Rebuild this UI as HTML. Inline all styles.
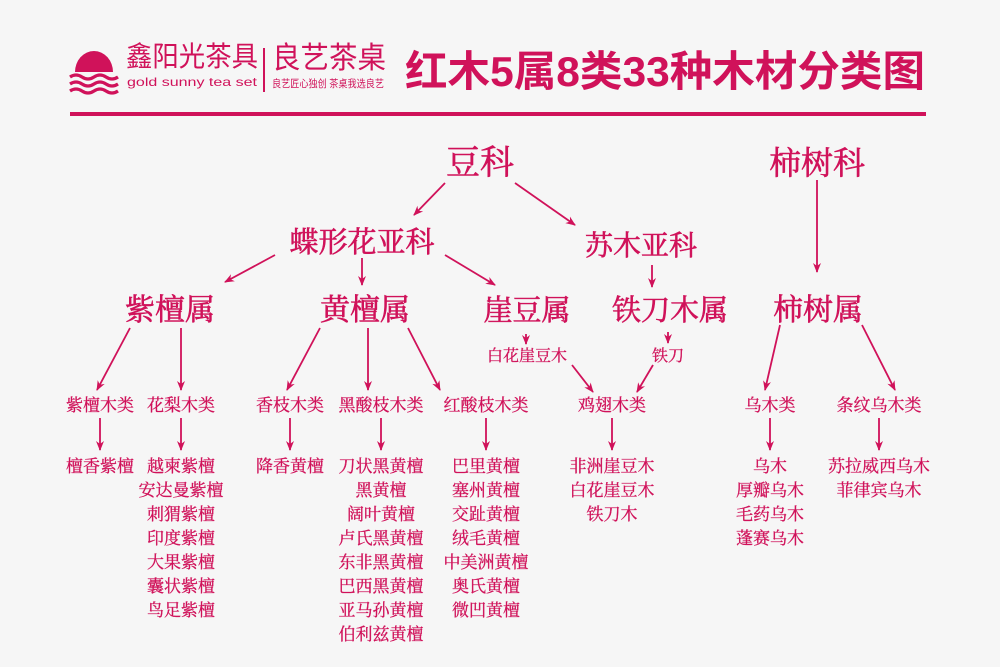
<!DOCTYPE html>
<html><head><meta charset="utf-8"><style>
body{margin:0;background:#f6f6f6}
svg{display:block}
.s{font-family:"Liberation Serif","Noto Serif CJK SC",serif;fill:#d0125a;text-anchor:middle}
.b{stroke:#d0125a;stroke-width:0.6}
.h{font-family:"Liberation Sans","Noto Sans CJK SC",sans-serif;fill:#d0125a}
</style></head><body>
<svg width="1000" height="667" viewBox="0 0 1000 667" xmlns="http://www.w3.org/2000/svg">
<defs><marker id="a" markerWidth="10" markerHeight="10" refX="9" refY="5" orient="auto" markerUnits="userSpaceOnUse"><path d="M0,1 L10,5 L0,9 L3,5 z" fill="#d0125a"/></marker></defs>
<rect width="1000" height="667" fill="#f6f6f6"/>
<!-- logo -->
<path d="M75,72 A19,21 0 0 1 113,72 Z" fill="#d0125a"/>
<g stroke="#d0125a" stroke-width="3.2" fill="none">
<path d="M70,77 q6,-4 12,0 t12,0 t12,0 t12,0"/>
<path d="M70,84 q6,-4 12,0 t12,0 t12,0 t12,0"/>
<path d="M70,91 q6,-4 12,0 t12,0 t12,0 t12,0"/>
</g>
<text class="h" x="126" y="66" font-size="28" textLength="132" lengthAdjust="spacingAndGlyphs">鑫阳光茶具</text>
<text class="h" x="127" y="86" font-size="12" textLength="130" lengthAdjust="spacingAndGlyphs">gold sunny tea set</text>
<rect x="263" y="48" width="2" height="44" fill="#d0125a"/>
<text class="h" x="272" y="68" font-size="30" textLength="114" lengthAdjust="spacingAndGlyphs">良艺茶桌</text>
<text class="h" x="272" y="87" font-size="10.5" textLength="112" lengthAdjust="spacingAndGlyphs">良艺匠心独创 茶桌我选良艺</text>
<text class="h" x="405" y="86" font-size="42" font-weight="bold" textLength="520" lengthAdjust="spacingAndGlyphs">红木5属8类33种木材分类图</text>
<rect x="70" y="112" width="856" height="4" fill="#d0125a"/>
<!-- arrows -->
<g stroke="#d0125a" stroke-width="1.8" marker-end="url(#a)">
<line x1="445" y1="183" x2="414" y2="215"/>
<line x1="515" y1="183" x2="575" y2="225"/>
<line x1="817" y1="180" x2="817" y2="272"/>
<line x1="275" y1="255" x2="225" y2="282"/>
<line x1="362" y1="258" x2="362" y2="285"/>
<line x1="445" y1="255" x2="495" y2="285"/>
<line x1="652" y1="265" x2="652" y2="287"/>
<line x1="130" y1="328" x2="97" y2="390"/>
<line x1="181" y1="328" x2="181" y2="390"/>
<line x1="320" y1="328" x2="287" y2="390"/>
<line x1="368" y1="328" x2="368" y2="390"/>
<line x1="408" y1="328" x2="440" y2="390"/>
<line x1="526" y1="334" x2="526" y2="344"/>
<line x1="668" y1="332" x2="668" y2="343"/>
<line x1="572" y1="365" x2="593" y2="392"/>
<line x1="653" y1="365" x2="637" y2="392"/>
<line x1="780" y1="325" x2="765" y2="390"/>
<line x1="862" y1="325" x2="895" y2="390"/>
<line x1="100" y1="418" x2="100" y2="450"/>
<line x1="181" y1="418" x2="181" y2="450"/>
<line x1="290" y1="418" x2="290" y2="450"/>
<line x1="381" y1="418" x2="381" y2="450"/>
<line x1="486" y1="418" x2="486" y2="450"/>
<line x1="612" y1="418" x2="612" y2="450"/>
<line x1="770" y1="418" x2="770" y2="450"/>
<line x1="879" y1="418" x2="879" y2="450"/>
</g>
<!-- nodes -->
<g class="b">
<text class="s" x="480" y="174" font-size="34">豆科</text>
<text class="s" x="817" y="174" font-size="32">柿树科</text>
<text class="s" x="362" y="252" font-size="29">蝶形花亚科</text>
<text class="s" x="641" y="255" font-size="28">苏木亚科</text>
<text class="s" x="170" y="320" font-size="30">紫檀属</text>
<text class="s" x="365" y="320" font-size="30">黄檀属</text>
<text class="s" x="527" y="320" font-size="29">崖豆属</text>
<text class="s" x="670" y="320" font-size="29">铁刀木属</text>
<text class="s" x="818" y="320" font-size="30">柿树属</text>
</g>
<g style="stroke:#d0125a;stroke-width:0.3">
<text class="s" x="527" y="361" font-size="16">白花崖豆木</text>
<text class="s" x="668" y="361" font-size="16">铁刀</text>
<g font-size="17">
<text class="s" x="100" y="411">紫檀木类</text>
<text class="s" x="181" y="411">花梨木类</text>
<text class="s" x="290" y="411">香枝木类</text>
<text class="s" x="381" y="411">黑酸枝木类</text>
<text class="s" x="486" y="411">红酸枝木类</text>
<text class="s" x="612" y="411">鸡翅木类</text>
<text class="s" x="770" y="411">乌木类</text>
<text class="s" x="879" y="411">条纹乌木类</text>
</g>
<g font-size="17">
<text class="s" x="100" y="472">檀香紫檀</text>
<text class="s" x="181" y="472">越柬紫檀</text><text class="s" x="181" y="496">安达曼紫檀</text><text class="s" x="181" y="520">刺猬紫檀</text><text class="s" x="181" y="544">印度紫檀</text><text class="s" x="181" y="568">大果紫檀</text><text class="s" x="181" y="592">囊状紫檀</text><text class="s" x="181" y="616">鸟足紫檀</text>
<text class="s" x="290" y="472">降香黄檀</text>
<text class="s" x="381" y="472">刀状黑黄檀</text><text class="s" x="381" y="496">黑黄檀</text><text class="s" x="381" y="520">阔叶黄檀</text><text class="s" x="381" y="544">卢氏黑黄檀</text><text class="s" x="381" y="568">东非黑黄檀</text><text class="s" x="381" y="592">巴西黑黄檀</text><text class="s" x="381" y="616">亚马孙黄檀</text><text class="s" x="381" y="640">伯利兹黄檀</text>
<text class="s" x="486" y="472">巴里黄檀</text><text class="s" x="486" y="496">塞州黄檀</text><text class="s" x="486" y="520">交趾黄檀</text><text class="s" x="486" y="544">绒毛黄檀</text><text class="s" x="486" y="568">中美洲黄檀</text><text class="s" x="486" y="592">奥氏黄檀</text><text class="s" x="486" y="616">微凹黄檀</text>
<text class="s" x="612" y="472">非洲崖豆木</text><text class="s" x="612" y="496">白花崖豆木</text><text class="s" x="612" y="520">铁刀木</text>
<text class="s" x="770" y="472">乌木</text><text class="s" x="770" y="496">厚瓣乌木</text><text class="s" x="770" y="520">毛药乌木</text><text class="s" x="770" y="544">蓬赛乌木</text>
<text class="s" x="879" y="472">苏拉威西乌木</text><text class="s" x="879" y="496">菲律宾乌木</text>
</g>
</g>
</svg>
</body></html>
